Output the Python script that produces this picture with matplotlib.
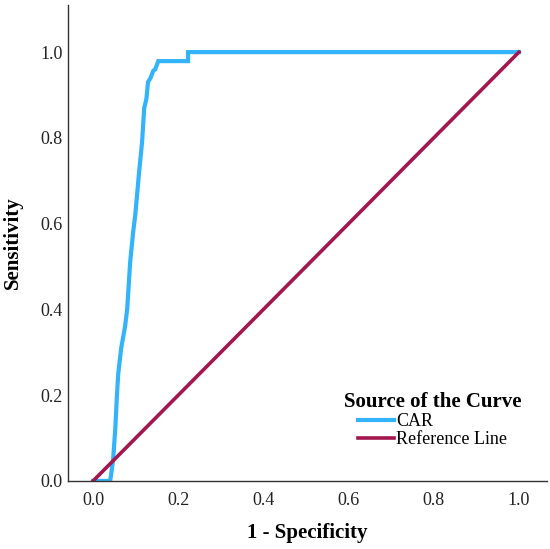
import matplotlib
matplotlib.use("Agg")
import matplotlib.pyplot as plt

# CAR curve points (1 - specificity, sensitivity)
car_fpr = [0.0, 0.040, 0.043, 0.047, 0.052, 0.056, 0.059, 0.066, 0.075, 0.080,
           0.087, 0.094, 0.099, 0.108, 0.115, 0.120, 0.125, 0.129, 0.135, 0.141,
           0.146, 0.153, 0.223, 0.223, 1.0]
car_tpr = [0.0, 0.0, 0.02, 0.05, 0.12, 0.20, 0.25, 0.31, 0.36, 0.40,
           0.51, 0.58, 0.62, 0.72, 0.79, 0.87, 0.89, 0.93, 0.94, 0.956,
           0.96, 0.979, 0.979, 1.0, 1.0]

ref_x = [0.0, 1.0]
ref_y = [0.0, 1.0]

ticks = [0.0, 0.2, 0.4, 0.6, 0.8, 1.0]

plt.rcParams["font.family"] = ["Liberation Serif", "DejaVu Serif"]

fig = plt.figure(figsize=(5.5, 5.49), dpi=100)
ax = fig.add_axes([0.1236, 0.124, 0.871, 0.867])

ax.plot(car_fpr, car_tpr, color="#33b4fa", linewidth=3, label="CAR",
        solid_joinstyle="miter")
ax.plot(ref_x, ref_y, color="#a3174e", linewidth=2.6, label="Reference Line")

ax.set_xlim(-0.059, 1.066)
ax.set_ylim(0, 1.11)
ax.set_xticks(ticks)
ax.set_yticks(ticks)
ax.set_xticklabels([f"{t:.1f}" for t in ticks])
ax.set_yticklabels([f"{t:.1f}" for t in ticks])
ax.tick_params(length=0, labelsize=13, colors="#222222")
ax.tick_params(axis="x", pad=8)
ax.tick_params(axis="y", pad=4)

for side in ["top", "right"]:
    ax.spines[side].set_visible(False)
for side in ["left", "bottom"]:
    ax.spines[side].set_color("#333333")
    ax.spines[side].set_linewidth(1.0)

ax.set_xlabel("1 - Specificity", fontsize=15, fontweight="bold", labelpad=10)
ax.set_ylabel("Sensitivity", fontsize=15, fontweight="bold", labelpad=12)

leg = ax.legend(title="Source of the Curve", loc="lower right",
                bbox_to_anchor=(0.965, 0.05), frameon=False, fontsize=13,
                handlelength=2.0, handletextpad=0.15, labelspacing=0.05,
                borderpad=0.0)
leg.get_title().set_fontweight("bold")
leg.get_title().set_fontsize(15)

fig.savefig("out.png", dpi=100)
